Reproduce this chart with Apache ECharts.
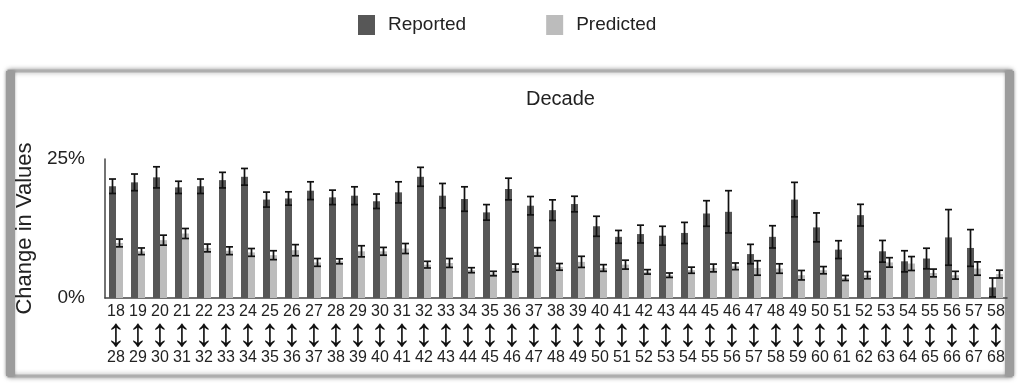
<!DOCTYPE html>
<html>
<head>
<meta charset="utf-8">
<script src="https://cdn.jsdelivr.net/npm/echarts@6/dist/echarts.min.js"></script>
<style>
html,body{margin:0;padding:0;background:#fff;}
#chart{width:1024px;height:385px;}
</style>
</head>
<body>
<div id="chart"></div>
<script>
// Age ranges (start / end of each decade window)
const startAges = [18,19,20,21,22,23,24,25,26,27,28,29,30,31,32,33,34,35,36,37,38,39,40,41,42,43,44,45,46,47,48,49,50,51,52,53,54,55,56,57,58];
const endAges   = [28,29,30,31,32,33,34,35,36,37,38,39,40,41,42,43,44,45,46,47,48,49,50,51,52,53,54,55,56,57,58,59,60,61,62,63,64,65,66,67,68];

// Reported change (%) and its error
const reported = [20.1,20.8,21.7,19.9,20.1,21.2,21.8,17.7,17.9,19.3,18.1,18.4,17.4,19.0,21.8,18.4,17.8,15.4,19.6,16.6,15.8,16.9,12.9,11.0,11.5,11.2,11.7,15.2,15.5,7.9,11.0,17.7,12.7,8.7,14.9,8.4,6.6,7.1,10.9,9.0,1.9];
const reportedErr = [1.3,1.5,1.9,1.1,1.3,1.4,1.5,1.35,1.2,1.6,1.3,1.6,1.3,1.9,1.7,2.2,2.2,1.4,1.95,1.65,1.85,1.4,1.8,1.15,1.6,1.7,1.9,2.3,3.8,1.75,2.0,3.1,2.6,1.6,1.95,1.95,1.9,1.85,5.0,3.3,1.7];

// Predicted change (%) and its error
const predicted = [9.9,8.4,10.4,11.6,9.0,8.5,8.2,7.7,8.6,6.4,6.6,8.4,8.4,8.9,6.0,6.3,5.0,4.4,5.4,8.3,5.6,6.5,5.4,6.0,4.7,4.1,5.0,5.4,5.7,5.4,5.3,4.1,5.0,3.6,4.1,6.4,6.2,4.5,4.1,5.3,4.3];
const predictedErr = [0.7,0.6,0.9,0.9,0.7,0.7,0.7,0.8,1.0,0.7,0.45,1.0,0.7,0.9,0.6,0.8,0.45,0.4,0.7,0.75,0.6,1.0,0.6,0.8,0.4,0.4,0.55,0.7,0.6,1.3,0.85,0.85,0.65,0.45,0.65,0.85,1.25,0.7,0.7,1.2,0.7];

// Y axis ticks
const yTicks = [0, 25];

const categories = startAges.map((s, i) => s + '|' + endAges[i]);

const BAR_W = 7;
const DARK = '#575757';
const LIGHT = '#bcbcbc';

function errorSeries(name, values, errs, offset) {
  return {
    type: 'custom',
    name: name + ' error',
    z: 5,
    silent: true,
    data: values.map((v, i) => [i, v - errs[i], v + errs[i]]),
    renderItem: function (params, api) {
      const lo = api.coord([api.value(0), api.value(1)]);
      const hi = api.coord([api.value(0), api.value(2)]);
      const x = lo[0] + offset;
      const hw = 3.5;
      const st = { stroke: '#111', lineWidth: 1.7 };
      return {
        type: 'group',
        children: [
          { type: 'line', shape: { x1: x, y1: lo[1], x2: x, y2: hi[1] }, style: st },
          { type: 'line', shape: { x1: x - hw, y1: lo[1], x2: x + hw, y2: lo[1] }, style: st },
          { type: 'line', shape: { x1: x - hw, y1: hi[1], x2: x + hw, y2: hi[1] }, style: st }
        ]
      };
    }
  };
}

const chart = echarts.init(document.getElementById('chart'), null, { renderer: 'canvas' });

const option = {
  backgroundColor: '#ffffff',
  animation: false,
  textStyle: { fontFamily: "'Liberation Sans', Arial, sans-serif" },
  graphic: [
    { type: 'rect', z: -10, shape: { x: 9, y: 71, width: 1002, height: 305 },
      style: { fill: '#ffffff', stroke: '#aeaeae', lineWidth: 3, shadowBlur: 5, shadowColor: 'rgba(0,0,0,0.35)' } },
    { type: 'rect', z: -9, shape: { x: 6, y: 71, width: 9, height: 305 },
      style: { fill: '#9c9c9c', shadowBlur: 3, shadowColor: 'rgba(0,0,0,0.3)' } },
    { type: 'rect', z: -9, shape: { x: 1005, y: 71, width: 9, height: 305 },
      style: { fill: '#9c9c9c', shadowBlur: 3, shadowColor: 'rgba(0,0,0,0.3)' } }
  ],
  title: {
    text: 'Decade',
    left: 521,
    top: 84,
    textStyle: { fontSize: 20, fontWeight: 'normal', color: '#222', fontFamily: "'Liberation Sans', Arial, sans-serif" }
  },
  legend: {
    left: 353,
    top: 10,
    itemWidth: 17,
    itemHeight: 20,
    itemGap: 80,
    icon: 'rect',
    textStyle: { fontSize: 19, color: '#222', padding: [0, 0, 0, 8] },
    data: ['Reported', 'Predicted']
  },
  grid: { left: 105, right: 17, top: 159, bottom: 87, containLabel: false },
  xAxis: {
    type: 'category',
    data: categories,
    axisLine: { show: true, lineStyle: { color: '#444', width: 1.5 } },
    axisTick: { show: false },
    axisLabel: {
      interval: 0,
      margin: 6,
      formatter: function (v) {
        const p = v.split('|');
        return '{n|' + p[0] + '}\n{a|↕}\n{n|' + p[1] + '}';
      },
      rich: {
        n: { fontSize: 16, lineHeight: 16, color: '#222', fontFamily: "'Liberation Sans Narrow', 'Liberation Sans', Arial, sans-serif" },
        a: { fontSize: 40, lineHeight: 30, color: '#111', fontFamily: "'Liberation Sans', Arial, sans-serif" }
      }
    }
  },
  yAxis: {
    type: 'value',
    min: yTicks[0],
    max: yTicks[1],
    interval: yTicks[1] - yTicks[0],
    name: 'Change in Values',
    nameLocation: 'middle',
    nameGap: 64,
    nameRotate: 90,
    nameTextStyle: { fontSize: 22, color: '#222' },
    axisLine: { show: true, lineStyle: { color: '#444', width: 1.5 } },
    axisTick: { show: false },
    splitLine: { show: false },
    axisLabel: { fontSize: 19, color: '#222', margin: 20, formatter: '{value}%' }
  },
  series: [
    { name: 'Reported', type: 'bar', data: reported, barWidth: BAR_W, barGap: '0%', itemStyle: { color: DARK } },
    { name: 'Predicted', type: 'bar', data: predicted, barWidth: BAR_W, barGap: '0%', itemStyle: { color: LIGHT } },
    errorSeries('Reported', reported, reportedErr, -BAR_W / 2),
    errorSeries('Predicted', predicted, predictedErr, BAR_W / 2)
  ]
};

chart.setOption(option);
</script>
</body>
</html>
